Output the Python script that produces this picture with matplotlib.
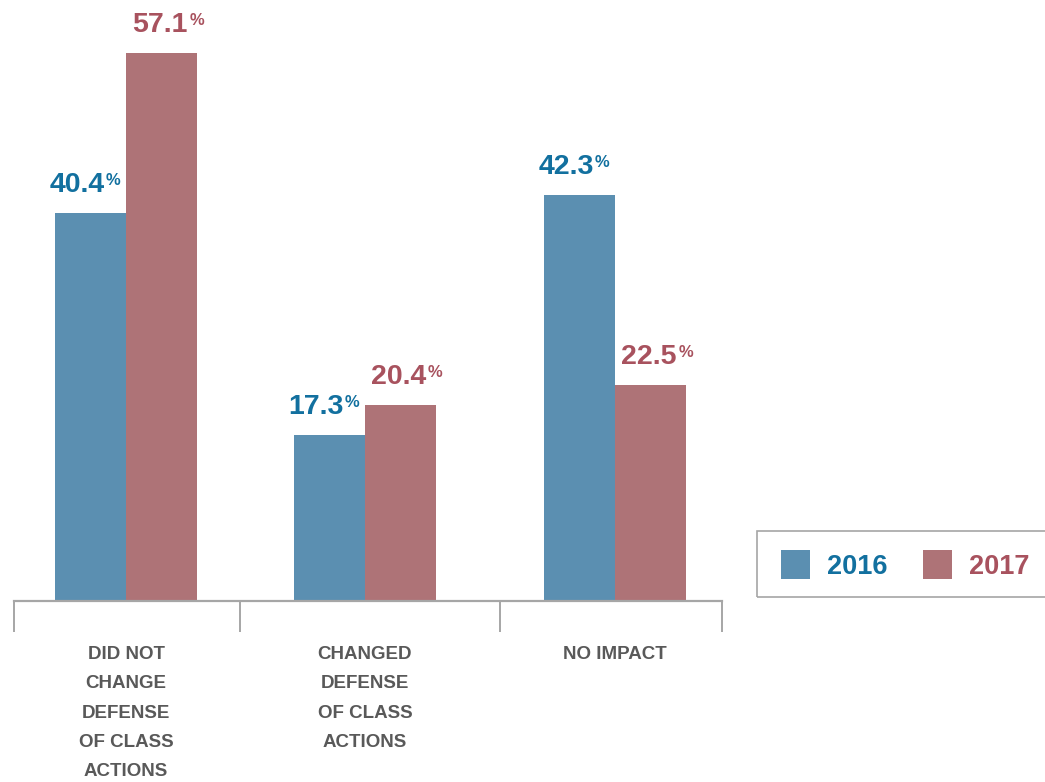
import matplotlib.pyplot as plt
from matplotlib.patches import Patch, Rectangle

# survey results, share of respondents
categories = ["DID NOT\nCHANGE\nDEFENSE\nOF CLASS\nACTIONS",
              "CHANGED\nDEFENSE\nOF CLASS\nACTIONS",
              "NO IMPACT"]
years = ["2016", "2017"]
vals_2016 = [40.4, 17.3, 42.3]
vals_2017 = [57.1, 20.4, 22.5]

# group centres and separator positions along the x axis
centres = [-0.025, 0.987, 2.047]
separators = [-0.5, 0.458, 1.559, 2.5]

bar_cols = ["#5B8FB1", "#AE7377"]
txt_cols = ["#12709F", "#A8525E"]
grey = "#A6A6A6"

plt.rcParams['font.family'] = ['Liberation Sans', 'DejaVu Sans']

fig = plt.figure(figsize=(10.45, 7.82), dpi=100)
ax = fig.add_axes([14 / 1045, 181 / 782, 708 / 1045, 601 / 782])

w = 0.30
nudge = [-3, 6]  # horizontal shift of the value labels, points
for i, (series, col, tcol) in enumerate(zip([vals_2016, vals_2017], bar_cols, txt_cols)):
    xs = [c - w / 2 + i * w for c in centres]
    ax.bar(xs, series, width=w, color=col, label=years[i])
    for xb, v in zip(xs, series):
        # number plus a small raised percent sign
        ax.annotate("%.1f" % v, (xb, v), xytext=(13 + nudge[i], 15), textcoords="offset points",
                    ha="right", va="baseline", fontsize=20.5, fontweight="bold", color=tcol)
        ax.annotate("%", (xb, v), xytext=(14 + nudge[i], 20), textcoords="offset points",
                    ha="left", va="baseline", fontsize=12, fontweight="bold", color=tcol)

ax.set_xlim(-0.5, 2.5)
ax.set_ylim(0, 57.1 * 601 / 548)

for s in ["top", "left", "right"]:
    ax.spines[s].set_visible(False)
ax.spines["bottom"].set_color(grey)
ax.spines["bottom"].set_linewidth(1.6)
ax.set_yticks([])

# separators between groups
ax.set_xticks(separators)
ax.set_xticklabels([])
ax.tick_params(axis="x", which="major", direction="out", length=22, width=1.4, color=grey)

# category names under each group
for c, name in zip(centres, categories):
    ax.text(c, -0.075, name, transform=ax.get_xaxis_transform(), ha="center", va="top",
            fontsize=13.5, fontweight="bold", color="#595959", linespacing=1.95)

# legend box runs off the right edge
fig.patches.append(Rectangle((757 / 1045, (782 - 597) / 782), 0.3, 66 / 782,
                             transform=fig.transFigure, fill=False,
                             edgecolor=grey, linewidth=1.2))
handles = [Patch(facecolor=c, edgecolor="none") for c in bar_cols]
leg = fig.legend(handles, years, loc="center left", bbox_to_anchor=(757 / 1045, (782 - 565) / 782),
                 ncol=2, frameon=False, handlelength=1.05, handleheight=1.25,
                 handletextpad=0.65, columnspacing=1.3,
                 prop={"size": 19.5, "weight": "bold"})
for t, c in zip(leg.get_texts(), txt_cols):
    t.set_color(c)

fig.savefig("out.png", dpi=100)
